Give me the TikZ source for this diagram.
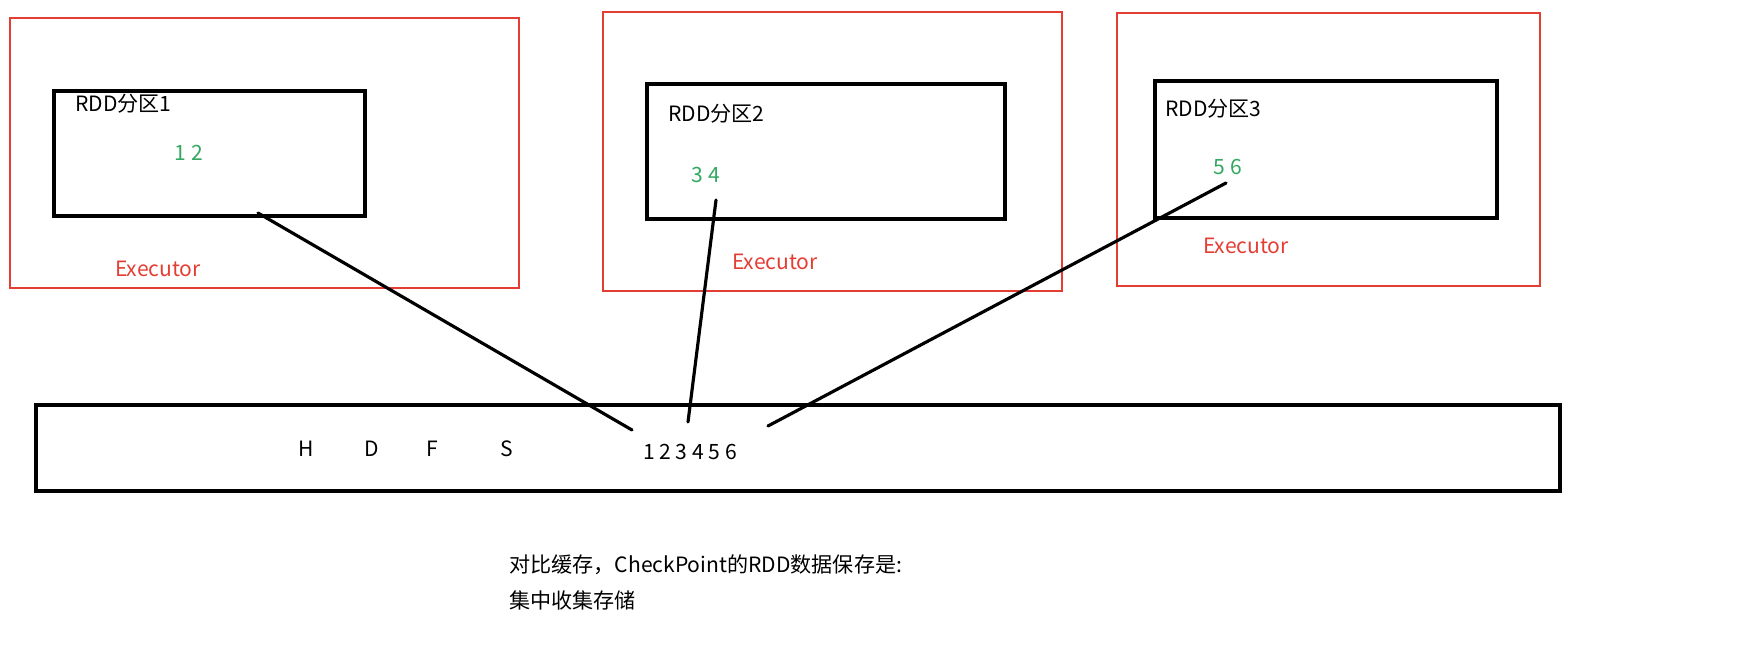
\documentclass[tikz,border=0pt]{standalone}
\usepackage{fontspec}
\setmainfont{Noto Sans CJK SC}
\usetikzlibrary{positioning}
\definecolor{execred}{RGB}{228,62,52}
\definecolor{numgreen}{RGB}{52,168,96}

\begin{document}
\begin{tikzpicture}[x=0.02cm, y=-0.02cm, font=\fontsize{12}{14}\selectfont,
    exec/.style={draw=execred, line width=1.6pt, inner sep=0pt},
    part/.style={draw=black, line width=2.2pt, inner sep=0pt},
    store/.style={draw=black, line width=2.2pt, inner sep=0pt},
    lbl/.style={anchor=west, inner sep=0pt},
    num/.style={text=numgreen, inner sep=0pt},
    exlbl/.style={text=execred, inner sep=0pt},
    link/.style={draw=black, line width=1.8pt, line cap=round}]
    \useasboundingbox (0,0) rectangle (1746,651);
    % executors
    \node[exec, minimum width=10.18cm, minimum height=5.4cm] (e1) at (264.5,153) {};
    \node[exec, minimum width=9.18cm, minimum height=5.58cm] (e2) at (832.5,151.5) {};
    \node[exec, minimum width=8.46cm, minimum height=5.46cm] (e3) at (1328.5,149.5) {};
    % partitions
    \node[part, minimum width=6.22cm, minimum height=2.5cm] (p1) at (209.5,153.5) {};
    \node[part, minimum width=7.16cm, minimum height=2.7cm] (p2) at (826,151.5) {};
    \node[part, minimum width=6.84cm, minimum height=2.74cm] (p3) at (1326,149.5) {};
    \node[lbl] (t1) at (75,104) {RDD分区1};
    \node[lbl] (t2) at (668,114) {RDD分区2};
    \node[lbl] (t3) at (1165,109) {RDD分区3};
    \node[num] (n1) at (189,153) {1 2};
    \node[num] (n2) at (706,175) {3 4};
    \node[num] (n3) at (1228,167) {5 6};
    \node[exlbl] (x1) at (158,269) {Executor};
    \node[exlbl] (x2) at (775,262) {Executor};
    \node[exlbl] (x3) at (1246,246) {Executor};
    % hdfs
    \node[store, minimum width=30.48cm, minimum height=1.72cm] (hdfs) at (798,448) {};
    \node[inner sep=0pt] (h) at (306,449) {H};
    \node[inner sep=0pt] (d) at (372,449) {D};
    \node[inner sep=0pt] (f) at (432,449) {F};
    \node[inner sep=0pt] (s) at (507,449) {S};
    \node[inner sep=0pt] (all) at (690,452) {1 2 3 4 5 6};
    % links
    \coordinate (c1a) at (258,213);
    \coordinate (c1b) at (632,430);
    \coordinate (c2a) at (716,200);
    \coordinate (c2b) at (688,422);
    \coordinate (c3a) at (1226,183);
    \coordinate (c3b) at (768,426);
    \draw[link] (c1a) -- (c1b);
    \draw[link] (c2a) -- (c2b);
    \draw[link] (c3a) -- (c3b);
    % note
    \node[lbl] (note1) at (509,565) {对比缓存，CheckPoint的RDD数据保存是:};
    \node[lbl] (note2) at (509,600) {集中收集存储};
\end{tikzpicture}
\end{document}
